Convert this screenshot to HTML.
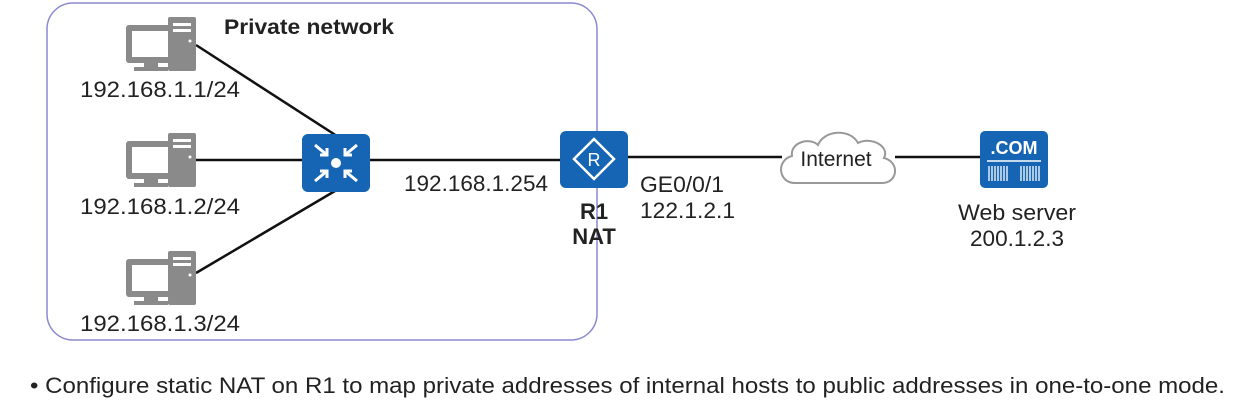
<!DOCTYPE html>
<html><head><style>
body{margin:0;width:1234px;height:409px;background:#fff;overflow:hidden}
svg text{font-family:"Liberation Sans",sans-serif;fill:#222}
</style></head><body>
<svg width="1234" height="409" viewBox="0 0 1234 409" xmlns="http://www.w3.org/2000/svg">
<defs>
<g id="pc">
 <rect x="0" y="8" width="50" height="38" rx="3" fill="#8a8a8a"/>
 <rect x="6" y="14" width="38" height="26" fill="#fff"/>
 <rect x="18" y="46" width="14" height="4" fill="#8a8a8a"/>
 <rect x="8" y="50" width="34" height="4" fill="#8a8a8a"/>
 <rect x="42" y="0" width="28" height="54" rx="2" fill="#8a8a8a"/>
 <rect x="47" y="6" width="18" height="3" fill="#fff"/>
 <rect x="47" y="12" width="18" height="3" fill="#fff"/>
 <circle cx="64" cy="24" r="1.5" fill="#fff"/>
</g>
</defs>
<rect x="47" y="3" width="550" height="337" rx="26" fill="none" stroke="#8a8ad0" stroke-width="1.5"/>
<g stroke="#111" stroke-width="2.5">
 <line x1="196" y1="45" x2="340" y2="138"/>
 <line x1="196" y1="160" x2="305" y2="160"/>
 <line x1="196" y1="273" x2="340" y2="188"/>
 <line x1="368" y1="160" x2="562" y2="160"/>
 <line x1="626" y1="157" x2="782" y2="157"/>
 <line x1="895" y1="157" x2="982" y2="157"/>
</g>
<use href="#pc" x="126" y="17"/>
<use href="#pc" x="126" y="133"/>
<use href="#pc" x="126" y="251"/>
<text x="80" y="97" font-size="22" textLength="160" lengthAdjust="spacingAndGlyphs">192.168.1.1/24</text>
<text x="80" y="214" font-size="22" textLength="160" lengthAdjust="spacingAndGlyphs">192.168.1.2/24</text>
<text x="80" y="331" font-size="22" textLength="160" lengthAdjust="spacingAndGlyphs">192.168.1.3/24</text>
<text x="224" y="34" font-size="21" font-weight="bold" textLength="170" lengthAdjust="spacingAndGlyphs">Private network</text>
<rect x="302" y="134" width="68" height="58" rx="6" fill="#1565b4"/>
<g stroke="#fff" stroke-width="3" fill="none">
 <path d="M315 145 L327 155 M320 155 L327 155 L327 148"/>
 <path d="M357 145 L345 155 M352 155 L345 155 L345 148"/>
 <path d="M315 181 L327 171 M320 171 L327 171 L327 178"/>
 <path d="M357 181 L345 171 M352 171 L345 171 L345 178"/>
</g>
<circle cx="336" cy="163" r="5" fill="#fff"/>
<text x="404" y="191" font-size="22" textLength="144" lengthAdjust="spacingAndGlyphs">192.168.1.254</text>
<rect x="560" y="131" width="68" height="57" rx="6" fill="#1565b4"/>
<path d="M594 139 L614 159 L594 179 L574 159 Z" fill="none" stroke="#fff" stroke-width="2.5"/>
<text x="594" y="166" font-size="18" text-anchor="middle" style="fill:#fff">R</text>
<text x="594" y="219" font-size="22" font-weight="bold" text-anchor="middle">R1</text>
<text x="594" y="244" font-size="22" font-weight="bold" text-anchor="middle">NAT</text>
<text x="640" y="192" font-size="22" textLength="84" lengthAdjust="spacingAndGlyphs">GE0/0/1</text>
<text x="640" y="218" font-size="22" textLength="95" lengthAdjust="spacingAndGlyphs">122.1.2.1</text>
<path d="M795 183 C778 183 776 160 792 156 C790 142 810 137 818 145 C824 130 850 128 858 143 C872 136 890 147 884 158 C900 162 898 183 882 183 Z" fill="#fff" stroke="#999" stroke-width="2"/>
<text x="836" y="166" font-size="21" text-anchor="middle">Internet</text>
<rect x="980" y="131" width="68" height="57" rx="5" fill="#1565b4"/>
<text x="1014" y="154" font-size="18" font-weight="bold" text-anchor="middle" style="fill:#fff">.COM</text>
<line x1="987" y1="161" x2="1041" y2="161" stroke="#fff" stroke-width="1.5"/>
<g stroke="#fff" stroke-width="1.3">
 <path d="M989 166v15M992 166v15M995 166v15M998 166v15M1001 166v15M1004 166v15M1007 166v15M1021 166v15M1024 166v15M1027 166v15M1030 166v15M1033 166v15M1036 166v15M1039 166v15"/>
</g>
<text x="958" y="220" font-size="22" textLength="118" lengthAdjust="spacingAndGlyphs">Web server</text>
<text x="970" y="246" font-size="22" textLength="94" lengthAdjust="spacingAndGlyphs">200.1.2.3</text>
<text x="30" y="393" font-size="22" textLength="1195" lengthAdjust="spacingAndGlyphs">•  Configure static NAT on R1 to map private addresses of internal hosts to public addresses in one-to-one mode.</text>
</svg>
</body></html>
